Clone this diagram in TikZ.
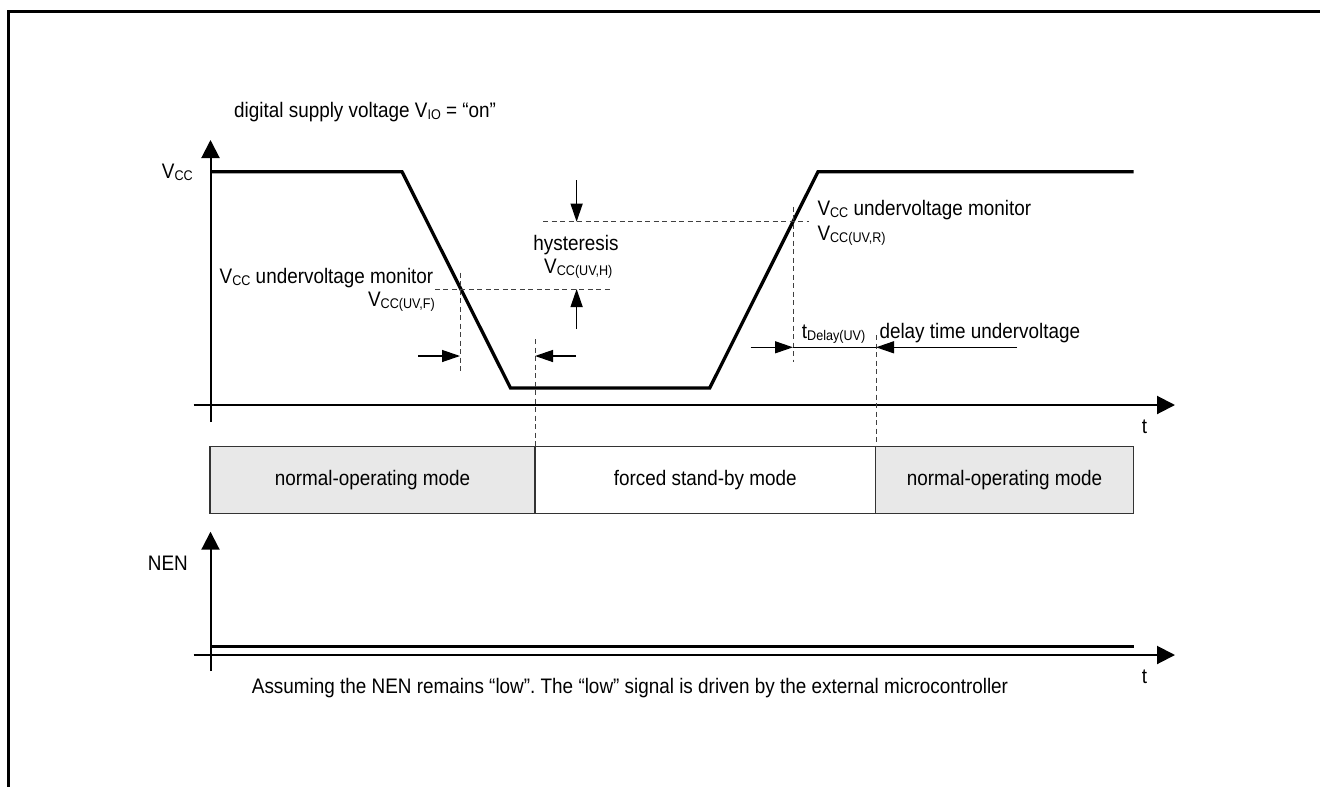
\documentclass[tikz,border=0pt]{standalone}
\usepackage{fontspec}
\setmainfont[FakeStretch=0.9]{Liberation Sans}
\usetikzlibrary{arrows.meta}
\frenchspacing
\newcommand{\lsub}[1]{\raisebox{-2pt}{\fontsize{14}{14}\selectfont #1}}
\begin{document}
\begin{tikzpicture}[x=1pt,y=-1pt,
  lbl/.style={inner sep=0pt, font=\fontsize{21}{25}\selectfont},
  axisarrow/.style={line width=2pt, -{Triangle[length=18pt,width=18pt]}},
  wave/.style={line width=3.3pt, line join=miter},
  dline/.style={line width=1pt, draw=black!75, dash pattern=on 5pt off 3.5pt},
  dimarrow/.style={line width=1.3pt, -{Triangle[length=18pt,width=12pt]}},
  dimline/.style={line width=1.3pt},
  modebox/.style={draw=black!80, line width=1.3pt, minimum height=66.6pt, inner sep=0pt, font=\fontsize{21}{25}\selectfont},
  gray box/.style={fill=black!9},
  frameline/.style={line width=2.7pt, line join=miter}
]
\useasboundingbox (0,0) rectangle (1320,787);

% frame
\coordinate (fr1) at (8.7,787);
\coordinate (fr0) at (8.7,11.8);
\coordinate (fr2) at (1320,11.8);
\draw[frameline] (fr1) -- (fr0) -- (fr2);

% mode boxes
\node[modebox, gray box, minimum width=325pt] (m1) at (372.5,480) {normal-operating mode};
\node[modebox, fill=white, minimum width=340.5pt] (m2) at (705.25,480) {forced stand-by mode};
\node[modebox, gray box, minimum width=258pt] (m3) at (1004.5,480) {normal-operating mode};

% axes
\coordinate (ya0) at (210.5,422);
\coordinate (ya1) at (210.5,140);
\coordinate (xa0) at (193.6,405);
\coordinate (xa1) at (1175,405);
\coordinate (na0) at (210.5,671);
\coordinate (na1) at (210.5,531.7);
\coordinate (nx0) at (193.6,655);
\coordinate (nx1) at (1175,655);
\draw[axisarrow] (ya0) -- (ya1);
\draw[axisarrow] (xa0) -- (xa1);
\draw[axisarrow] (na0) -- (na1);
\draw[axisarrow] (nx0) -- (nx1);

% waveform
\coordinate (w0) at (210.5,171.7);
\coordinate (w1) at (402,171.7);
\coordinate (w2) at (510.5,388);
\coordinate (w3) at (709.7,388);
\coordinate (w4) at (818,171.7);
\coordinate (w5) at (1133.5,171.7);
\draw[wave] (w0) -- (w1) -- (w2) -- (w3) -- (w4) -- (w5);

% NEN signal
\coordinate (n0) at (210.5,646.7);
\coordinate (n1) at (1133.5,646.7);
\draw[wave] (n0) -- (n1);

% dashed guides
\coordinate (dF1) at (460,272.7);
\coordinate (dF2) at (460,372.3);
\coordinate (hF1) at (434.8,289);
\coordinate (hF2) at (610,289);
\coordinate (hR1) at (543,221.7);
\coordinate (hR2) at (809.4,221.7);
\coordinate (dR1) at (793,206.7);
\coordinate (dR2) at (793,361.7);
\coordinate (dS1) at (535,339);
\coordinate (dS2) at (535,446.7);
\coordinate (dN1) at (876,335);
\coordinate (dN2) at (876,446.7);
\draw[dline] (dF1) -- (dF2);
\draw[dline] (hF1) -- (hF2);
\draw[dline] (hR1) -- (hR2);
\draw[dline] (dR1) -- (dR2);
\draw[dline] (dS1) -- (dS2);
\draw[dline] (dN1) -- (dN2);

% hysteresis arrows
\coordinate (ha0) at (576.6,180);
\coordinate (ha1) at (576.6,221.7);
\coordinate (hb0) at (576.6,329);
\coordinate (hb1) at (576.6,289);
\draw[dimarrow] (ha0) -- (ha1);
\draw[dimarrow] (hb0) -- (hb1);

% falling delay arrows
\coordinate (fa0) at (418,356);
\coordinate (fa1) at (460,356);
\coordinate (fb0) at (576,356);
\coordinate (fb1) at (535,356);
\draw[dimarrow] (fa0) -- (fa1);
\draw[dimarrow] (fb0) -- (fb1);

% rising delay arrows
\coordinate (ra0) at (750.5,347.3);
\coordinate (ra1) at (793,347.3);
\coordinate (rb0) at (1017,347.3);
\coordinate (rb1) at (876,347.3);
\draw[dimarrow] (ra0) -- (ra1);
\draw[dimarrow] (rb0) -- (rb1);
\draw[dimline] (ra1) -- (rb1);

% labels
\node[lbl, anchor=base west] (title) at (234,117.5) {digital supply voltage V\lsub{IO} = “on”};
\node[lbl, anchor=base east] (vcc) at (193,178) {V\lsub{CC}};
\node[lbl, anchor=base east] (nen) at (188,570) {NEN};
\node[lbl, anchor=base west] (t1) at (1141.7,433) {t};
\node[lbl, anchor=base west] (t2) at (1141.7,683) {t};
\node[lbl, anchor=base] (hyst) at (576,250) {hysteresis};
\node[lbl, anchor=base west] (vh) at (544,273.3) {V\lsub{CC(UV,H)}};
\node[lbl, anchor=base east] (monF) at (433.5,283.3) {V\lsub{CC} undervoltage monitor};
\node[lbl, anchor=base east] (vf) at (435,306.7) {V\lsub{CC(UV,F)}};
\node[lbl, anchor=base west] (monR) at (817.3,215) {V\lsub{CC} undervoltage monitor};
\node[lbl, anchor=base west] (vr) at (817.3,240) {V\lsub{CC(UV,R)}};
\node[lbl, anchor=base west] (td) at (801.7,338.3) {t\lsub{Delay(UV)}};
\node[lbl, anchor=base west] (dtu) at (879.3,338.3) {delay time undervoltage};
\node[lbl, anchor=base west] (note) at (251.7,693.3) {Assuming the NEN remains “low”. The “low” signal is driven by the external microcontroller};
\end{tikzpicture}
\end{document}
